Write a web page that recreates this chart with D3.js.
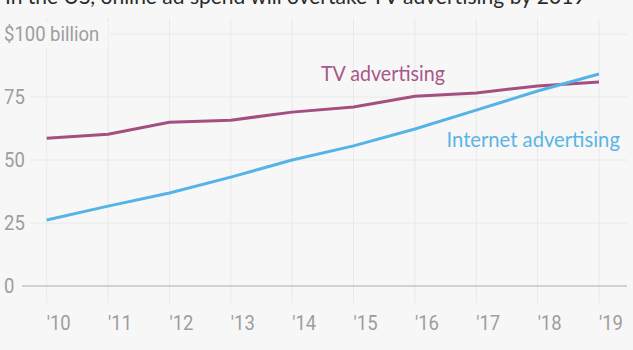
<!DOCTYPE html>
<html><head><meta charset="utf-8">
<script src="https://cdn.jsdelivr.net/npm/d3@7"></script>
<style>
html,body{margin:0;padding:0;background:#f7f7f7;}
svg{display:block;}
</style></head>
<body>
<script>
const years = ["'10","'11","'12","'13","'14","'15","'16","'17","'18","'19"];
const tvValues = [58.6, 60.2, 65, 65.8, 69, 71, 75.3, 76.6, 79.4, 81];
const internetValues = [26.2, 31.7, 36.9, 43.2, 50, 55.6, 62.3, 69.8, 77.4, 84.1];
const yTicks = [0, 25, 50, 75, 100];
const yTickLabels = ["0", "25", "50", "75", "$100 billion"];
const title = "In the US, online ad spend will overtake TV advertising by 2019";

const W = 633, H = 350;
const svg = d3.select("body").append("svg").attr("width", W).attr("height", H);
svg.append("rect").attr("width", W).attr("height", H).attr("fill", "#f7f7f7");

const x = d3.scalePoint().domain(years).range([46.7, 599]);
const y = d3.scaleLinear().domain([0, 100]).range([286, 34]);

const tickFont = "Roboto, 'Liberation Sans', sans-serif";
const tickColor = "#9d9d9d";
const sx = 0.88;

// title (partially cropped at top, as in the reference)
svg.append("text").attr("x", 5).attr("y", 4)
  .attr("font-family", "Lato, 'Open Sans', sans-serif").attr("font-size", 21)
  .attr("fill", "#2a2a2a").text(title);

// vertical gridlines
svg.append("g").selectAll("line").data(years).join("line")
  .attr("x1", d => x(d)).attr("x2", d => x(d))
  .attr("y1", 18).attr("y2", 303)
  .attr("stroke", "#e9e9e9").attr("stroke-width", 1);

// horizontal gridlines
svg.append("g").selectAll("line").data(yTicks).join("line")
  .attr("x1", d => d === 100 ? 110 : (d === 0 ? 22 : 30))
  .attr("x2", 627)
  .attr("y1", d => y(d)).attr("y2", d => y(d))
  .attr("stroke", d => d === 0 ? "#c4c4c4" : "#e8e8e8")
  .attr("stroke-width", d => d === 0 ? 1.5 : 1);

// background behind the top unit label
svg.append("rect").attr("x", 0).attr("y", 22).attr("width", 108).attr("height", 26)
  .attr("fill", "#f7f7f7");

// y labels
svg.append("g").selectAll("text").data(yTicks).join("text")
  .attr("transform", d => `translate(4,${y(d) + 7}) scale(${sx},1)`)
  .attr("font-family", tickFont).attr("font-weight", 400).attr("font-size", 21)
  .attr("fill", tickColor)
  .text((d, i) => yTickLabels[i]);

// x labels
svg.append("g").selectAll("text").data(years).join("text")
  .attr("transform", d => `translate(${x(d)},330) scale(${sx},1)`)
  .attr("font-family", tickFont).attr("font-weight", 400).attr("font-size", 21)
  .attr("fill", tickColor)
  .text(d => d);

const line = d3.line().x((d, i) => x(years[i])).y(d => y(d));

svg.append("path").datum(tvValues).attr("d", line)
  .attr("fill", "none").attr("stroke", "#a44f80").attr("stroke-width", 3)
  .attr("stroke-linejoin", "round");
svg.append("path").datum(internetValues).attr("d", line)
  .attr("fill", "none").attr("stroke", "#55b4e6").attr("stroke-width", 3)
  .attr("stroke-linejoin", "round");

const labFont = "Lato, 'Open Sans', sans-serif";
function fit(sel, target) {
  const w = sel.node().getComputedTextLength();
  const xx = +sel.attr("data-x"), yy = +sel.attr("data-y");
  sel.attr("transform", `translate(${xx},${yy}) scale(${target / w},1)`);
}
const tvLab = svg.append("text").attr("data-x", 321).attr("data-y", 81)
  .attr("font-family", labFont).attr("font-size", 21).attr("fill", "#a8578a")
  .text("TV advertising");
fit(tvLab, 124);
const inLab = svg.append("text").attr("data-x", 446.5).attr("data-y", 147)
  .attr("font-family", labFont).attr("font-size", 21).attr("fill", "#5ab5e5")
  .text("Internet advertising");
fit(inLab, 173.5);
</script>
</body></html>
